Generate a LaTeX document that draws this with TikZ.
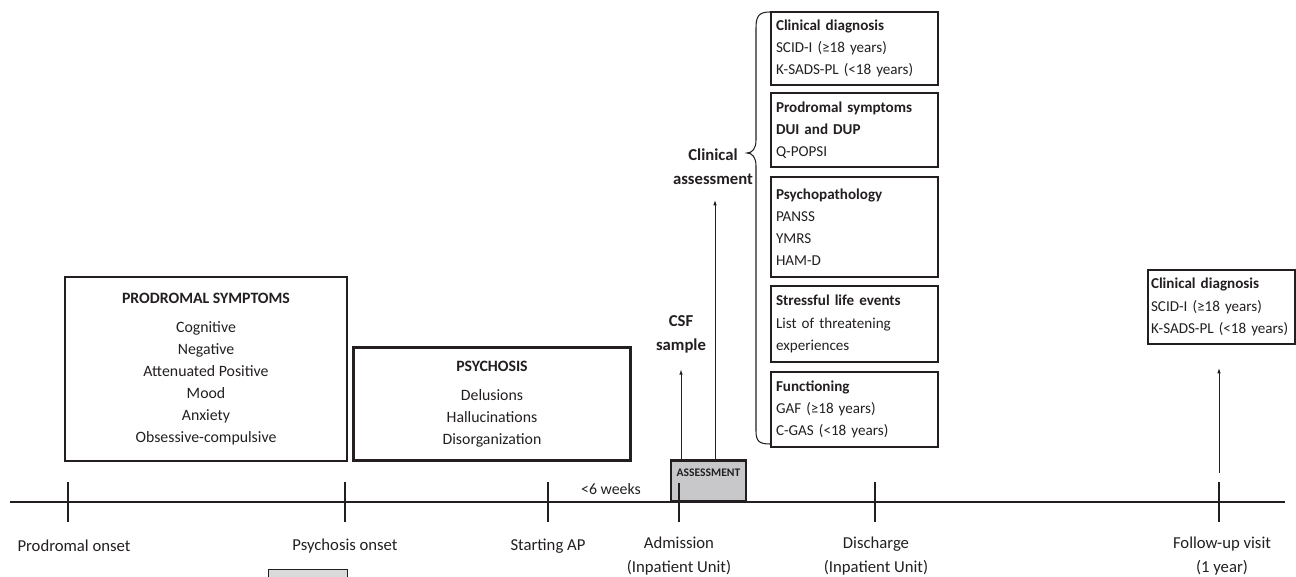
\documentclass[tikz,border=0pt]{standalone}
\usepackage{fontspec}
\setmainfont{Carlito}
\usepackage{xcolor}
\usepackage{tikz}
\usetikzlibrary{arrows.meta,positioning}
\definecolor{ink}{RGB}{35,31,32}
\definecolor{shade}{RGB}{200,200,202}
\definecolor{paleshade}{RGB}{218,218,218}

\begin{document}
\begin{tikzpicture}[x=0.02cm,y=-0.02cm,
  font=\fontsize{9}{12.5}\selectfont, text=ink,
  bigbox/.style={draw=ink, line width=1.2pt, align=center, inner sep=0pt},
  listbox/.style={draw=ink, line width=0.6pt, align=left, inner xsep=0.1cm,
    inner ysep=0pt, text width=3.14cm, minimum height=#1,
    font=\fontsize{8.6}{12.6}\selectfont},
  tick/.style={draw=ink, line width=0.8pt},
  arr/.style={draw=ink, line width=0.5pt, -{Latex[length=3pt,width=2pt]}},
  when/.style={align=center, font=\fontsize{9.5}{14}\selectfont}]
  \useasboundingbox (0,0) rectangle (1296,577);

  % timeline
  \draw[ink, line width=1.2pt] (10,502) -- (1285,502);
  \foreach \x/\n in {68/pro,345/psy,548/ap,679/adm,875/dis,1219/fu}{
    \coordinate (t\n) at (\x,502);
    \draw[tick] (\x,482) -- (\x,522);
  }

  % labels under the ticks
  \node[when] (lpro) at (74,546) {Prodromal onset};
  \node[when] (lpsy) at (345,546) {Psychosis onset};
  \node[when] (lap)  at (548,546) {Starting AP};
  \node[when] (ladm) at (679,556) {Admission\\(Inpatient Unit)};
  \node[when] (ldis) at (876,556) {Discharge\\(Inpatient Unit)};
  \node[when] (lfu)  at (1222,556) {Follow-up visit\\(1 year)};
  \node (weeks) at (611,489) {<6 weeks};

  % phases
  \node[bigbox, minimum width=5.64cm, minimum height=3.68cm] (prodromal) at (206,369)
    {\textbf{PRODROMAL SYMPTOMS}\\[4pt] Cognitive\\ Negative\\ Attenuated Positive\\
     Mood\\ Anxiety\\ Obsessive-compulsive};
  \node[bigbox, minimum width=5.54cm, minimum height=2.26cm] (psychosis) at (492,404)
    {\textbf{PSYCHOSIS}\\[4pt] Delusions\\ Hallucinations\\ Disorganization};

  % assessment box
  \node[draw=ink, fill=shade, line width=1.2pt, minimum width=1.5cm,
    minimum height=0.82cm, inner sep=0pt] (asm) at (708.5,481) {};
  \node[font=\bfseries\fontsize{6.6}{7}\selectfont] (asmlbl) at (708.5,473) {ASSESSMENT};
  \draw[tick] (679,483) -- (tadm);

  % what is collected
  \node[align=center, font=\bfseries\fontsize{9.5}{13.5}\selectfont] (csf) at (681,334) {CSF\\sample};
  \node[align=center, font=\bfseries\fontsize{9.5}{13.5}\selectfont] (clin) at (713,167) {Clinical\\assessment};
  \draw[arr] (asm.north -| csf) -- ([yshift=-6pt]csf.south);
  \draw[arr] (asm.north -| 715,0) -- (715,200);

  % brace
  \draw[ink, line width=0.6pt] (770,12) .. controls (759,12) and (756,16) .. (756,28)
    -- (756,140) .. controls (756,149) and (752,153) .. (747,153)
    .. controls (752,153) and (756,157) .. (756,166)
    -- (756,431) .. controls (756,441) and (759,444) .. (770,444);

  % instruments
  \node[listbox=1.46cm] (diag) at (854.5,48.5)
    {\textbf{Clinical diagnosis}\\ SCID-I (≥18 years)\\ K-SADS-PL (<18 years)};
  \node[listbox=1.48cm] (dui) at (854.5,130)
    {\textbf{Prodromal symptoms}\\ \textbf{DUI and DUP}\\ Q-POPSI};
  \node[listbox=2.0cm] (psypat) at (854.5,227)
    {\textbf{Psychopathology}\\ PANSS\\ YMRS\\ HAM-D};
  \node[listbox=1.52cm] (stress) at (854.5,324)
    {\textbf{Stressful life events}\\ List of threatening\\ experiences};
  \node[listbox=1.5cm] (func) at (854.5,409.5)
    {\textbf{Functioning}\\ GAF (≥18 years)\\ C-GAS (<18 years)};

  % follow-up
  \node[listbox=1.48cm, text width=2.82cm, inner xsep=0.06cm] (fudiag) at (1221.5,307)
    {\textbf{Clinical diagnosis}\\ SCID-I (≥18 years)\\ K-SADS-PL (<18 years)};
  \coordinate (fubase) at (1219,473);
  \draw[arr] (fubase) -- (fubase |- 0,368);

  % cut-off box
  \draw[ink, line width=0.4pt, fill=paleshade] (268,590) rectangle (347,569);
\end{tikzpicture}
\end{document}
